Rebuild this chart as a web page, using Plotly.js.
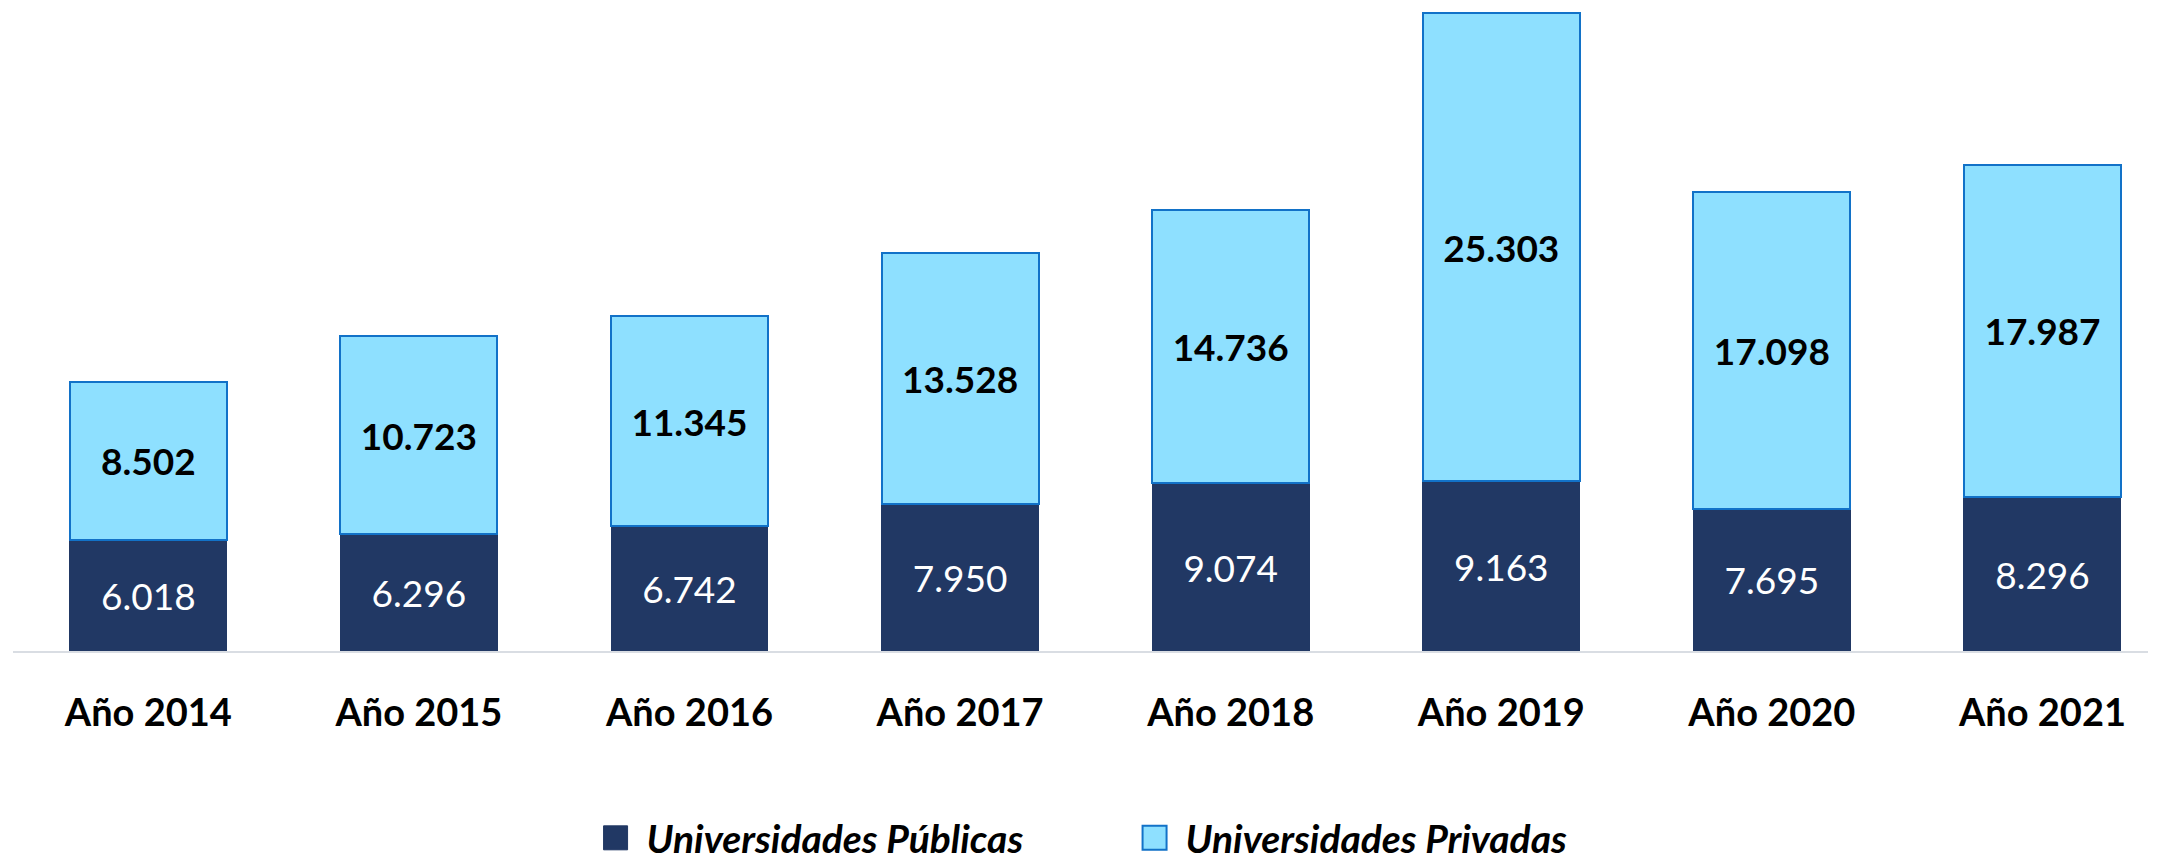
<!DOCTYPE html>
<html>
<head>
<meta charset="utf-8">
<script src="https://cdn.plot.ly/plotly-3.0.1.min.js"></script>
<style>html,body{margin:0;padding:0;background:#fff;}#chart{width:2159px;height:863px;}</style>
</head>
<body>
<div id="chart"></div>
<script>
const categories = ["Año 2014","Año 2015","Año 2016","Año 2017","Año 2018","Año 2019","Año 2020","Año 2021"];
const publicas = [6018, 6296, 6742, 7950, 9074, 9163, 7695, 8296];
const privadas = [8502, 10723, 11345, 13528, 14736, 25303, 17098, 17987];
const seriesNames = ["Universidades Públicas", "Universidades Privadas"];

const FONT = "Lato, 'Open Sans', sans-serif";

const traces = [
  {
    type: "bar", name: seriesNames[0], x: categories, y: publicas,
    marker: {color: "#213864", line: {width: 1, color: "#213864"}},
    width: 0.58,
    texttemplate: "%{y:,.0f}", textposition: "inside", insidetextanchor: "middle",
    textangle: 0, constraintext: "none",
    textfont: {family: FONT, size: 37, color: "#ffffff"},
    hoverinfo: "skip"
  },
  {
    type: "bar", name: seriesNames[1], x: categories, y: privadas,
    marker: {color: "#8ee0ff", line: {width: 2, color: "#1272c8"}},
    width: 0.58,
    texttemplate: "%{y:,.0f}", textposition: "inside", insidetextanchor: "middle",
    textangle: 0, constraintext: "none",
    textfont: {family: FONT, size: 37, color: "#000000", weight: "bold"},
    hoverinfo: "skip"
  }
];

const layout = {
  width: 2159, height: 863,
  margin: {l: 13, r: 11, t: 5, b: 212},
  paper_bgcolor: "#ffffff", plot_bgcolor: "#ffffff",
  barmode: "stack",
  separators: ",.",
  showlegend: true,
  legend: {
    orientation: "h", xref: "container", yref: "container",
    x: 0.5306, xanchor: "center", y: 0.029, yanchor: "middle",
    traceorder: "normal", itemwidth: 30, entrywidth: 494,
    font: {family: FONT, size: 39, color: "#000000", weight: "bold", style: "italic"},
    itemclick: false, itemdoubleclick: false
  },
  xaxis: {
    type: "category", range: [-0.5, 7.39],
    showline: true, linecolor: "#d9dde3", linewidth: 2,
    showgrid: false, zeroline: false, ticks: "",
    tickfont: {family: FONT, size: 38, color: "#000000", weight: "bold"},
    ticklabelstandoff: 27,
    fixedrange: true
  },
  yaxis: {
    range: [0, 34900], visible: false, showgrid: false, zeroline: false, fixedrange: true
  },
  font: {family: FONT}
};

Plotly.newPlot("chart", traces, layout, {displayModeBar: false, staticPlot: true}).then(function(){
  document.querySelectorAll(".legend [clip-path]").forEach(function(el){
    el.removeAttribute("clip-path");
  });
  document.querySelectorAll(".legend .legendpoints path").forEach(function(p){
    p.setAttribute("d", "M12,12H-12V-12H12Z");
    p.setAttribute("transform", "translate(9,0)");
  });
});
</script>
</body>
</html>
